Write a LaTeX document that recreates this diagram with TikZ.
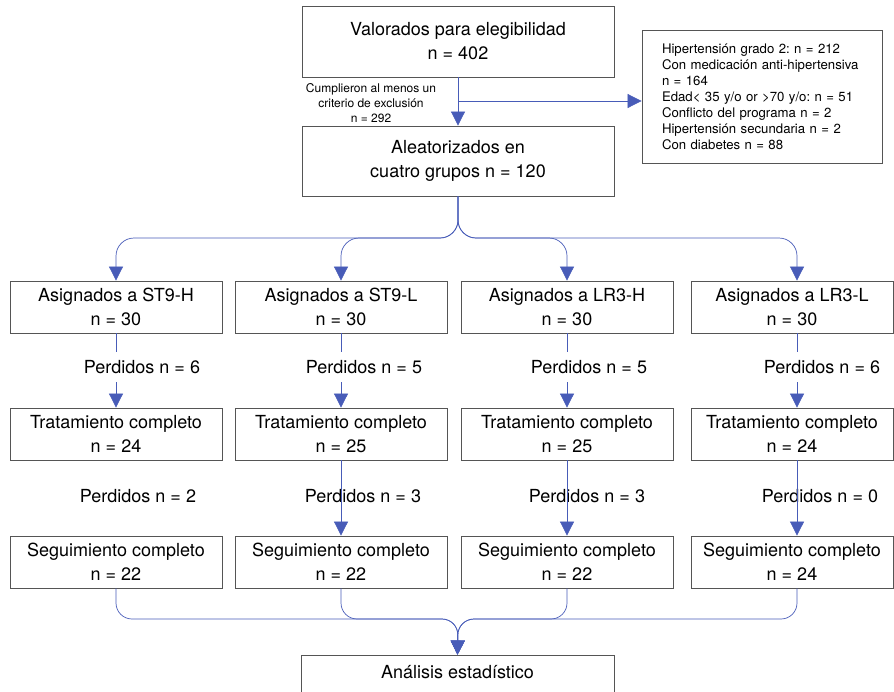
\documentclass[tikz,border=0pt]{standalone}
\usepackage{fontspec}
\setmainfont{TeX Gyre Heros}
\frenchspacing
\usetikzlibrary{arrows.meta}
\definecolor{boxgray}{RGB}{85,85,85}
\definecolor{linkblue}{RGB}{72,92,184}

\begin{document}
\begin{tikzpicture}[x=1pt,y=-1pt,
	box/.style={rectangle,draw=boxgray,line width=0.8pt,inner sep=0pt,align=center,font=\fontsize{18}{24}\selectfont},
	lost/.style={rectangle,inner sep=0pt,minimum height=30pt,font=\fontsize{18}{24}\selectfont},
	link/.style={draw=linkblue,line width=0.7pt},
	arrow/.style={link,-{Triangle[width=14pt,length=14pt]}}]
	\useasboundingbox (0,0) rectangle (894,691);

	\node (val) at (458,41.5) [box,minimum width=312pt,minimum height=71pt] {Valorados para elegibilidad\\n = 402};
	\node (excl) at (762,96.5) [box,align=left,text width=200pt,inner xsep=20pt,minimum height=133pt,font=\fontsize{13.2}{16}\selectfont] {Hipertensión grado 2: n = 212\\Con medicación anti-hipertensiva\\n = 164\\Edad< 35 y/o or >70 y/o: n = 51\\Conflicto del programa n = 2\\Hipertensión secundaria n = 2\\Con diabetes n = 88};
	\node (cut) at (371,103) [align=center,font=\fontsize{12}{15}\selectfont] {Cumplieron al menos un\\criterio de exclusión\\n = 292};
	\node (ale) at (458,161) [box,minimum width=312pt,minimum height=70pt] {Aleatorizados en\\cuatro grupos n = 120};

	\node (a1) at (116,307) [box,minimum width=212pt,minimum height=52pt] {Asignados a ST9-H\\n = 30};
	\node (a2) at (341,307) [box,minimum width=212pt,minimum height=52pt] {Asignados a ST9-L\\n = 30};
	\node (a3) at (567,307) [box,minimum width=212pt,minimum height=52pt] {Asignados a LR3-H\\n = 30};
	\node (a4) at (792,307) [box,minimum width=202pt,minimum height=52pt] {Asignados a LR3-L\\n = 30};

	\node (p1) at (142,367) [lost] {Perdidos n = 6};
	\node (p2) at (364,367) [lost] {Perdidos n = 5};
	\node (p3) at (589,367) [lost] {Perdidos n = 5};
	\node (p4) at (822,367) [lost] {Perdidos n = 6};

	\node (t1) at (116,434) [box,minimum width=212pt,minimum height=52pt] {Tratamiento completo\\n = 24};
	\node (t2) at (341,434) [box,minimum width=212pt,minimum height=52pt] {Tratamiento completo\\n = 25};
	\node (t3) at (567,434) [box,minimum width=212pt,minimum height=52pt] {Tratamiento completo\\n = 25};
	\node (t4) at (792,434) [box,minimum width=202pt,minimum height=52pt] {Tratamiento completo\\n = 24};

	\node (q1) at (138,496) [lost] {Perdidos n = 2};
	\node (q2) at (363,496) [lost] {Perdidos n = 3};
	\node (q3) at (587,496) [lost] {Perdidos n = 3};
	\node (q4) at (820,496) [lost] {Perdidos n = 0};

	\node (s1) at (116,562) [box,minimum width=212pt,minimum height=52pt] {Seguimiento completo\\n = 22};
	\node (s2) at (341,562) [box,minimum width=212pt,minimum height=52pt] {Seguimiento completo\\n = 22};
	\node (s3) at (567,562) [box,minimum width=212pt,minimum height=52pt] {Seguimiento completo\\n = 22};
	\node (s4) at (792,562) [box,minimum width=202pt,minimum height=52pt] {Seguimiento completo\\n = 24};

	\node (ana) at (457.5,673.5) [box,minimum width=313pt,minimum height=37pt,text height=13pt,text depth=4pt] {Análisis estadístico};

	% connectors
	\coordinate (split) at (458,101);
	\coordinate (fork) at (458,238);
	\coordinate (merge) at (458,619);
	\coordinate (lane4) at (797,0);

	\draw[arrow] (val) -- (ale);
	\draw[arrow] (split) -- (split -| excl.west);

	\draw[arrow,rounded corners=18pt] (ale.south) -- (fork) -| (a1.north);
	\draw[arrow,rounded corners=18pt] (ale.south) -- (fork) -| (a2.north);
	\draw[arrow,rounded corners=18pt] (ale.south) -- (fork) -| (a3.north);
	\draw[arrow,rounded corners=18pt] (ale.south) -- (fork) -| (lane4 |- a4.north);

	\draw[link] (a1.south) -- (a1.south |- p1.north);
	\draw[arrow] (a1.south |- p1.south) -- (t1.north);
	\draw[link] (a2.south) -- (a2.south |- p2.north);
	\draw[arrow] (a2.south |- p2.south) -- (t2.north);
	\draw[link] (a3.south) -- (a3.south |- p3.north);
	\draw[arrow] (a3.south |- p3.south) -- (t3.north);
	\draw[link] (lane4 |- a4.south) -- (lane4 |- p4.north);
	\draw[arrow] (lane4 |- p4.south) -- (lane4 |- t4.north);

	\draw[arrow] (t2.south) -- (s2.north);
	\draw[arrow] (t3.south) -- (s3.north);
	\draw[arrow] (lane4 |- t4.south) -- (lane4 |- s4.north);

	\draw[arrow,rounded corners=16pt] (s1.south) |- (merge) -- (ana.north);
	\draw[arrow,rounded corners=16pt] (s2.south) |- (merge) -- (ana.north);
	\draw[arrow,rounded corners=16pt] (s3.south) |- (merge) -- (ana.north);
	\draw[arrow,rounded corners=16pt] (lane4 |- s4.south) |- (merge) -- (ana.north);
\end{tikzpicture}
\end{document}
